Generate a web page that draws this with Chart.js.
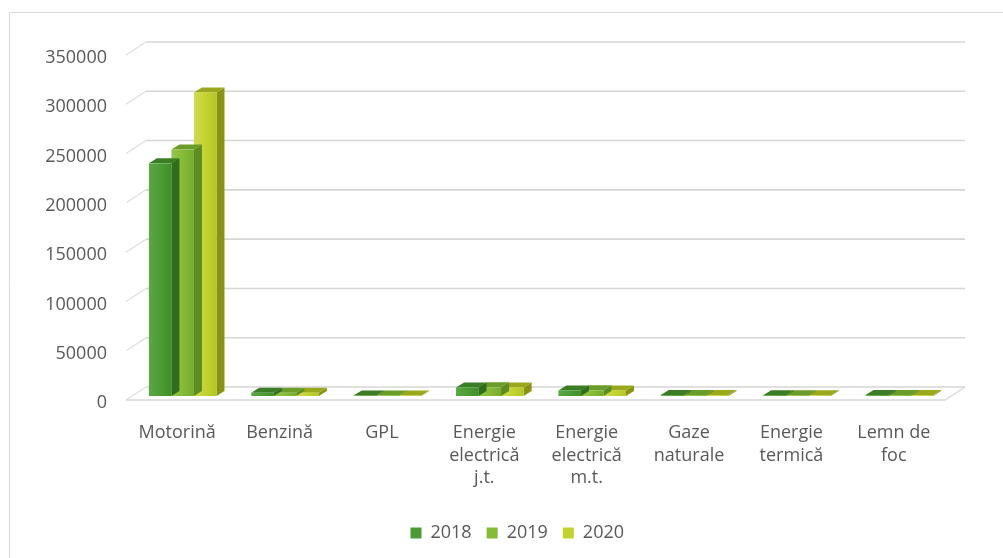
<!DOCTYPE html>
<html>
<head>
<meta charset="utf-8">
<script src="https://cdn.jsdelivr.net/npm/chart.js@4.4.1/dist/chart.umd.min.js"></script>
<style>
  html, body { margin: 0; padding: 0; background: #ffffff; }
  #wrap { position: relative; width: 1003px; height: 558px; }
</style>
</head>
<body>
<div id="wrap"><canvas id="c"></canvas></div>
<script>
// ---- data ----
const categories = [
  "Motorină", "Benzină", "GPL", ["Energie", "electrică", "j.t."],
  ["Energie", "electrică", "m.t."], ["Gaze", "naturale"], ["Energie", "termică"], ["Lemn de", "foc"]
];
const seriesNames = ["2018", "2019", "2020"];
const values2018 = [236000, 3200, 600, 8600, 5600, 900, 800, 900];
const values2019 = [250000, 3400, 600, 8800, 5800, 900, 800, 900];
const values2020 = [308000, 3300, 600, 8700, 5700, 900, 800, 900];
const yTicks = [0, 50000, 100000, 150000, 200000, 250000, 300000, 350000];

// ---- styles ----
const legendColors = ["#4a9b33", "#86bb35", "#c2d32e"];
const faceColors = [
  { front: ["#5aa845", "#4c9d35", "#3e8f2a"], top: "#3b7d25", side: "#2f6e1c" },
  { front: ["#95c64a", "#86bb38", "#76ad2c"], top: "#6a9c2a", side: "#5c8c22" },
  { front: ["#d0dc52", "#c4d330", "#b4c626"], top: "#9aa81c", side: "#879412" }
];
const BAR_DEPTH = { dx: 8, dy: -5 };     // depth of each bar
const TO_FLOOR = { dx: -5.5, dy: 4 };    // bar front plane -> floor front edge
const TO_WALL = { dx: 14.5, dy: -9 };    // bar front plane -> back wall
const FONT = "'Open Sans', 'Noto Sans', sans-serif";
const TEXT = "#595959";
const LEGEND_LEFT = 84;

const threeD = {
  id: "threeD",
  afterLayout(chart) {
    const lg = chart.legend;
    if (lg) { lg.left = LEGEND_LEFT; lg.width = lg.right - LEGEND_LEFT; }
  },
  beforeDraw(chart) {
    const ctx = chart.ctx;
    ctx.save();
    ctx.fillStyle = "#ffffff";
    ctx.fillRect(0, 0, chart.width, chart.height);
    ctx.strokeStyle = "#d9d9d9";
    ctx.lineWidth = 1;
    ctx.beginPath();
    ctx.moveTo(9.5, chart.height);
    ctx.lineTo(9.5, 12.5);
    ctx.lineTo(chart.width, 12.5);
    ctx.stroke();
    ctx.restore();
  },
  beforeDatasetsDraw(chart) {
    const ctx = chart.ctx;
    const ys = chart.scales.y;
    const a = chart.chartArea;
    ctx.save();
    yTicks.forEach(v => {
      const py = ys.getPixelForValue(v);
      ctx.strokeStyle = "#d6d6d6";
      ctx.lineWidth = 1.6;
      ctx.beginPath();
      ctx.moveTo(a.left + TO_WALL.dx, py + TO_WALL.dy);
      ctx.lineTo(a.right + TO_WALL.dx, py + TO_WALL.dy);
      ctx.stroke();
      ctx.strokeStyle = "#dedede";
      ctx.lineWidth = 1.2;
      ctx.beginPath();
      ctx.moveTo(a.left + TO_FLOOR.dx, py + TO_FLOOR.dy);
      ctx.lineTo(a.left + TO_WALL.dx, py + TO_WALL.dy);
      ctx.stroke();
    });
    const p0 = ys.getPixelForValue(0);
    ctx.strokeStyle = "#d9d9d9";
    ctx.lineWidth = 1.4;
    ctx.beginPath();
    ctx.moveTo(a.left + TO_FLOOR.dx, p0 + TO_FLOOR.dy);
    ctx.lineTo(a.right + TO_FLOOR.dx, p0 + TO_FLOOR.dy);
    ctx.lineTo(a.right + TO_WALL.dx, p0 + TO_WALL.dy);
    ctx.stroke();
    ctx.restore();
  },
  beforeDatasetDraw(chart, args) {
    const ctx = chart.ctx;
    const meta = chart.getDatasetMeta(args.index);
    const fc = faceColors[args.index];
    ctx.save();
    meta.data.forEach(bar => {
      const p = bar.getProps(["x", "y", "base", "width"], true);
      const l = p.x - p.width / 2, r = p.x + p.width / 2;
      const t = Math.min(p.y, p.base), b = Math.max(p.y, p.base);
      const dx = BAR_DEPTH.dx, dy = BAR_DEPTH.dy;
      ctx.fillStyle = fc.side;
      ctx.beginPath();
      ctx.moveTo(r, t); ctx.lineTo(r + dx, t + dy); ctx.lineTo(r + dx, b + dy); ctx.lineTo(r, b);
      ctx.closePath(); ctx.fill();
      ctx.fillStyle = fc.top;
      ctx.beginPath();
      ctx.moveTo(l, t); ctx.lineTo(l + dx, t + dy); ctx.lineTo(r + dx, t + dy); ctx.lineTo(r, t);
      ctx.closePath(); ctx.fill();
      const g = ctx.createLinearGradient(l, 0, r, 0);
      g.addColorStop(0, fc.front[0]);
      g.addColorStop(0.5, fc.front[1]);
      g.addColorStop(1, fc.front[2]);
      ctx.fillStyle = g;
      ctx.fillRect(l, t, r - l, b - t);
    });
    ctx.restore();
    return false;
  }
};

const datasets = [values2018, values2019, values2020].map((vals, i) => ({
  label: seriesNames[i],
  data: vals,
  backgroundColor: legendColors[i],
  borderWidth: 0,
  categoryPercentage: 0.66,
  barPercentage: 1.0
}));

new Chart(document.getElementById("c"), {
  type: "bar",
  data: { labels: categories, datasets },
  plugins: [threeD],
  options: {
    responsive: true,
    maintainAspectRatio: false,
    animation: false,
    layout: { padding: { left: 0, right: 52.5, top: 51, bottom: 6 } },
    scales: {
      x: {
        grid: { display: false, drawTicks: false },
        border: { display: false },
        ticks: {
          color: TEXT,
          font: { family: FONT, size: 18, lineHeight: 1.25 },
          padding: 26,
          labelOffset: -5.5,
          maxRotation: 0,
          autoSkip: false
        },
        afterFit(s) { s.height = 113; }
      },
      y: {
        min: 0,
        max: 350000,
        grid: { display: false, drawTicks: false },
        border: { display: false },
        afterBuildTicks(s) { s.ticks = yTicks.map(v => ({ value: v })); },
        ticks: {
          color: TEXT,
          font: { family: FONT, size: 18 },
          padding: 24.5,
          labelOffset: 7,
          callback: v => String(v)
        },
        afterFit(s) { s.width = 131.5; }
      }
    },
    plugins: {
      legend: {
        position: "bottom",
        labels: {
          color: TEXT,
          font: { family: FONT, size: 18 },
          boxWidth: 11,
          boxHeight: 11,
          padding: 15
        }
      },
      tooltip: { enabled: false }
    }
  }
});
</script>
</body>
</html>
